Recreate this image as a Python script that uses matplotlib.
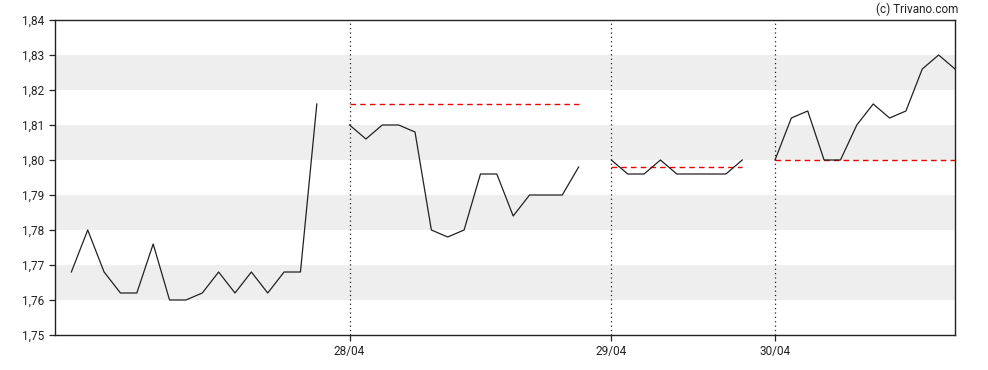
import numpy as np
import matplotlib.pyplot as plt

plt.rcParams.update({
    "font.family": ["Roboto", "DejaVu Sans"],
    "font.size": 8.5,
})

# ---- data (slot index per intraday sample; empty slots separate days) ----
day1 = [1.768, 1.780, 1.768, 1.762, 1.762, 1.776, 1.760, 1.760,
        1.762, 1.768, 1.762, 1.768, 1.762, 1.768, 1.768, 1.816]
day2 = [1.810, 1.806, 1.810, 1.810, 1.808, 1.780, 1.778, 1.780,
        1.796, 1.796, 1.784, 1.790, 1.790, 1.790, 1.798]
day3 = [1.800, 1.796, 1.796, 1.800, 1.796, 1.796, 1.796, 1.796, 1.800]
day4 = [1.800, 1.812, 1.814, 1.800, 1.800, 1.810, 1.816, 1.812,
        1.814, 1.826, 1.830, 1.826]
day_start = [0, 17, 33, 43]
prev_close = [None, 1.816, 1.798, 1.800]
date_labels = ["28/04", "29/04", "30/04"]
y_ticks = [1.75, 1.76, 1.77, 1.78, 1.79, 1.80, 1.81, 1.82, 1.83, 1.84]

days = [day1, day2, day3, day4]

fig = plt.figure(figsize=(9.88, 3.70), dpi=100)
ax = fig.add_axes([55 / 988, 35 / 370, 900 / 988, 315 / 370])

# grey bands
for lo in [1.76, 1.78, 1.80, 1.82]:
    ax.axhspan(lo, lo + 0.01, color="#eeeeee", lw=0, zorder=0)

for start, vals, pc in zip(day_start, days, prev_close):
    x = np.arange(start, start + len(vals))
    ax.plot(x, vals, color="#222222", lw=0.9, zorder=3)
    if pc is not None:
        ax.plot([x[0], x[-1]], [pc, pc], color="#ee0000", lw=1.0,
                ls=(0, (4, 3)), zorder=2)

for s in day_start[1:]:
    ax.axvline(s, color="#222222", lw=0.9, ls=(0, (1, 2.5)), zorder=1)

ax.set_xlim(-1, 54)
ax.set_ylim(1.75, 1.84)
ax.set_yticks(y_ticks)
ax.set_yticklabels([f"{v:.2f}".replace(".", ",") for v in y_ticks])
ax.set_xticks(day_start[1:])
ax.set_xticklabels(date_labels)
ax.tick_params(axis="both", length=4, width=0.9, colors="#222222", labelcolor="#222222")
ax.tick_params(axis="x", pad=3)
for sp in ax.spines.values():
    sp.set_linewidth(1.0)
    sp.set_color("#222222")

fig.text(958 / 988, 1 - 9 / 370, "(c) Trivano.com", ha="right", va="center",
         fontsize=8.5, color="#222222")

fig.savefig("out.png", dpi=100)
